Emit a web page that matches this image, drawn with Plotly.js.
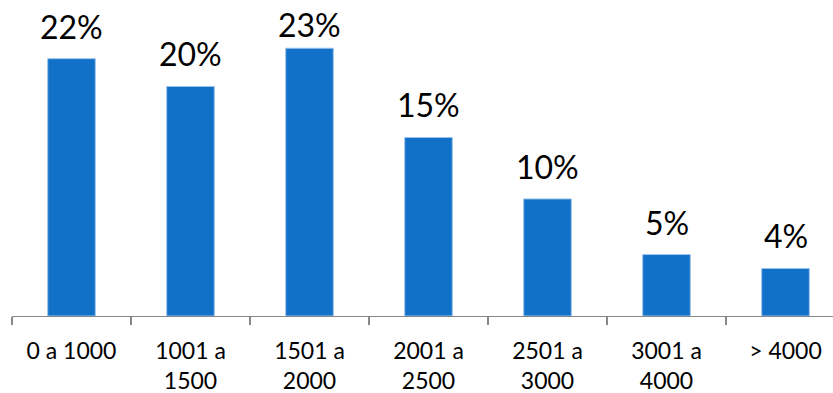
<!DOCTYPE html>
<html>
<head>
<meta charset="utf-8">
<script src="https://cdn.plot.ly/plotly-3.0.1.min.js"></script>
<style>html,body{margin:0;padding:0;background:#fff;}#chart{width:833px;height:393px;}</style>
</head>
<body>
<div id="chart"></div>
<script>
const categories = ["0 a 1000", "1001 a<br>1500", "1501 a<br>2000", "2001 a<br>2500", "2501 a<br>3000", "3001 a<br>4000", "> 4000"];
const values = [22.2, 19.8, 23.1, 15.4, 10.1, 5.3, 4.1];
const labels = ["22%", "20%", "23%", "15%", "10%", "5%", "4%"];

const labelCap = 22.35;

const trace = {
  type: "bar",
  x: categories,
  y: values,
  width: 0.4,
  marker: {color: "#1170C7", line: {color: "#9cc4ec", width: 1}},
  hoverinfo: "none"
};

const annotations = categories.map((c, i) => ({
  x: c, y: Math.min(values[i], labelCap), xref: "x", yref: "y",
  text: labels[i], showarrow: false, yanchor: "bottom", yshift: 11,
  font: {family: "Lato, sans-serif", size: 32, color: "#000"}
}));

const layout = {
  width: 833, height: 393,
  margin: {l: 12, r: 0, t: 0, b: 77},
  paper_bgcolor: "#fff", plot_bgcolor: "#fff",
  showlegend: false,
  font: {family: "Lato, sans-serif", color: "#000"},
  xaxis: {
    type: "category",
    range: [-0.5, 6.5 - 12 / 119],
    showline: true, linecolor: "#878787", linewidth: 1.3,
    ticks: "outside", tickson: "boundaries", ticklen: 8, tickwidth: 1.3, tickcolor: "#878787",
    ticklabelstandoff: 14,
    showgrid: false, zeroline: false,
    tickfont: {family: "Lato, sans-serif", size: 23, color: "#000"},
    fixedrange: true
  },
  yaxis: {
    range: [0, 27.26], visible: false, showgrid: false, zeroline: false, fixedrange: true
  },
  annotations: annotations
};

Plotly.newPlot("chart", [trace], layout, {displayModeBar: false, staticPlot: true});
</script>
</body>
</html>
